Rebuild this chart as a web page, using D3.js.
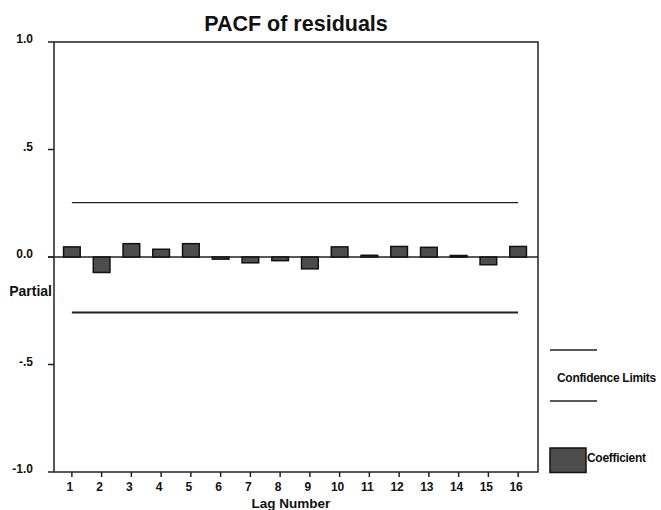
<!DOCTYPE html>
<html>
<head>
<meta charset="utf-8">
<script src="https://cdn.jsdelivr.net/npm/d3@7"></script>
<style>
  body { margin: 0; background: #fff; }
  text { font-family: "Liberation Sans", Arial, sans-serif; font-weight: bold; fill: #111; }
</style>
</head>
<body>
<div class="chart"></div>
<script>
// lag numbers and partial autocorrelation coefficients
const lags = [1, 2, 3, 4, 5, 6, 7, 8, 9, 10, 11, 12, 13, 14, 15, 16]
const pacf = [0.047, -0.072, 0.062, 0.036, 0.062, -0.010, -0.027, -0.017,
              -0.055, 0.047, 0.008, 0.049, 0.045, 0.007, -0.036, 0.049]
const confLimits = [0.253, -0.258]
const yTicks = [1.0, 0.5, 0.0, -0.5, -1.0]
const yTickLabels = ['1.0', '.5', '0.0', '-.5', '-1.0']

const width = 661, height = 510
const plot = { left: 54, right: 538, top: 42, bottom: 472 }

const svg = d3.select('.chart')
  .append('svg')
    .attr('width', width)
    .attr('height', height)

const x = d3.scaleBand()
  .domain(lags)
  .range([57, 533])
  .paddingInner(0.44)
  .paddingOuter(0.22)

const y = d3.scaleLinear()
  .domain([-1, 1])
  .range([plot.bottom, plot.top])

const cx = (d) => x(d) + x.bandwidth() / 2

// title
svg.append('text')
  .attr('x', 296)
  .attr('y', 31)
  .attr('text-anchor', 'middle')
  .style('font-size', '21.5px')
  .text('PACF of residuals')

// frame
svg.append('rect')
  .attr('x', plot.left)
  .attr('y', plot.top)
  .attr('width', plot.right - plot.left)
  .attr('height', plot.bottom - plot.top)
  .attr('fill', 'none')
  .attr('stroke', '#222')
  .attr('stroke-width', 1.5)

// y axis ticks + labels
svg.selectAll('.ytick')
  .data(yTicks)
  .enter()
  .append('line')
    .attr('x1', plot.left - 6)
    .attr('x2', plot.left)
    .attr('y1', (d) => y(d))
    .attr('y2', (d) => y(d))
    .attr('stroke', '#222')
    .attr('stroke-width', 1.5)

svg.selectAll('.ylab')
  .data(yTicks)
  .enter()
  .append('text')
    .attr('x', 33)
    .attr('y', (d) => y(d) - 3)
    .attr('text-anchor', 'end')
    .attr('dominant-baseline', 'central')
    .style('font-size', '12px')
    .text((d, i) => yTickLabels[i])

svg.append('text')
  .attr('x', 52)
  .attr('y', 296)
  .attr('text-anchor', 'end')
  .style('font-size', '14px')
  .text('Partial')

// x axis ticks + labels
svg.selectAll('.xtick')
  .data(lags)
  .enter()
  .append('line')
    .attr('x1', cx)
    .attr('x2', cx)
    .attr('y1', plot.bottom)
    .attr('y2', plot.bottom + 5)
    .attr('stroke', '#222')
    .attr('stroke-width', 1.5)

svg.selectAll('.xlab')
  .data(lags)
  .enter()
  .append('text')
    .attr('x', (d) => cx(d) - 2)
    .attr('y', 491)
    .attr('text-anchor', 'middle')
    .style('font-size', '12px')
    .text((d) => d)

svg.append('text')
  .attr('x', 291)
  .attr('y', 508)
  .attr('text-anchor', 'middle')
  .style('font-size', '13.5px')
  .text('Lag Number')

// zero line
svg.append('line')
  .attr('x1', plot.left - 6)
  .attr('x2', plot.right)
  .attr('y1', y(0))
  .attr('y2', y(0))
  .attr('stroke', '#222')
  .attr('stroke-width', 1.3)

// confidence limits
svg.selectAll('.conf')
  .data(confLimits)
  .enter()
  .append('line')
    .attr('x1', cx(lags[0]))
    .attr('x2', cx(lags[lags.length - 1]))
    .attr('y1', (d) => y(d))
    .attr('y2', (d) => y(d))
    .attr('stroke', '#222')
    .attr('stroke-width', (d, i) => i === 0 ? 1.3 : 2)

// bars
svg.selectAll('.bar')
  .data(lags)
  .enter()
  .append('rect')
    .attr('x', (d) => x(d))
    .attr('width', x.bandwidth())
    .attr('y', (d, i) => y(Math.max(0, pacf[i])))
    .attr('height', (d, i) => Math.abs(y(pacf[i]) - y(0)))
    .attr('fill', '#4d4d4d')
    .attr('stroke', '#111')
    .attr('stroke-width', 1.5)

// legend
const legend = svg.append('g')
legend.selectAll('line')
  .data([350, 401])
  .enter()
  .append('line')
    .attr('x1', 550)
    .attr('x2', 597)
    .attr('y1', (d) => d)
    .attr('y2', (d) => d)
    .attr('stroke', '#222')
    .attr('stroke-width', 1.3)

legend.append('text')
  .attr('x', 557)
  .attr('y', 378)
  .attr('dominant-baseline', 'central')
  .style('font-size', '12px')
  .style('letter-spacing', '-0.3px')
  .text('Confidence Limits')

legend.append('rect')
  .attr('x', 550)
  .attr('y', 448)
  .attr('width', 36)
  .attr('height', 24.5)
  .attr('fill', '#4d4d4d')
  .attr('stroke', '#111')
  .attr('stroke-width', 1.5)

legend.append('text')
  .attr('x', 587)
  .attr('y', 458)
  .attr('dominant-baseline', 'central')
  .style('font-size', '12px')
  .style('letter-spacing', '-0.3px')
  .text('Coefficient')
</script>
</body>
</html>
